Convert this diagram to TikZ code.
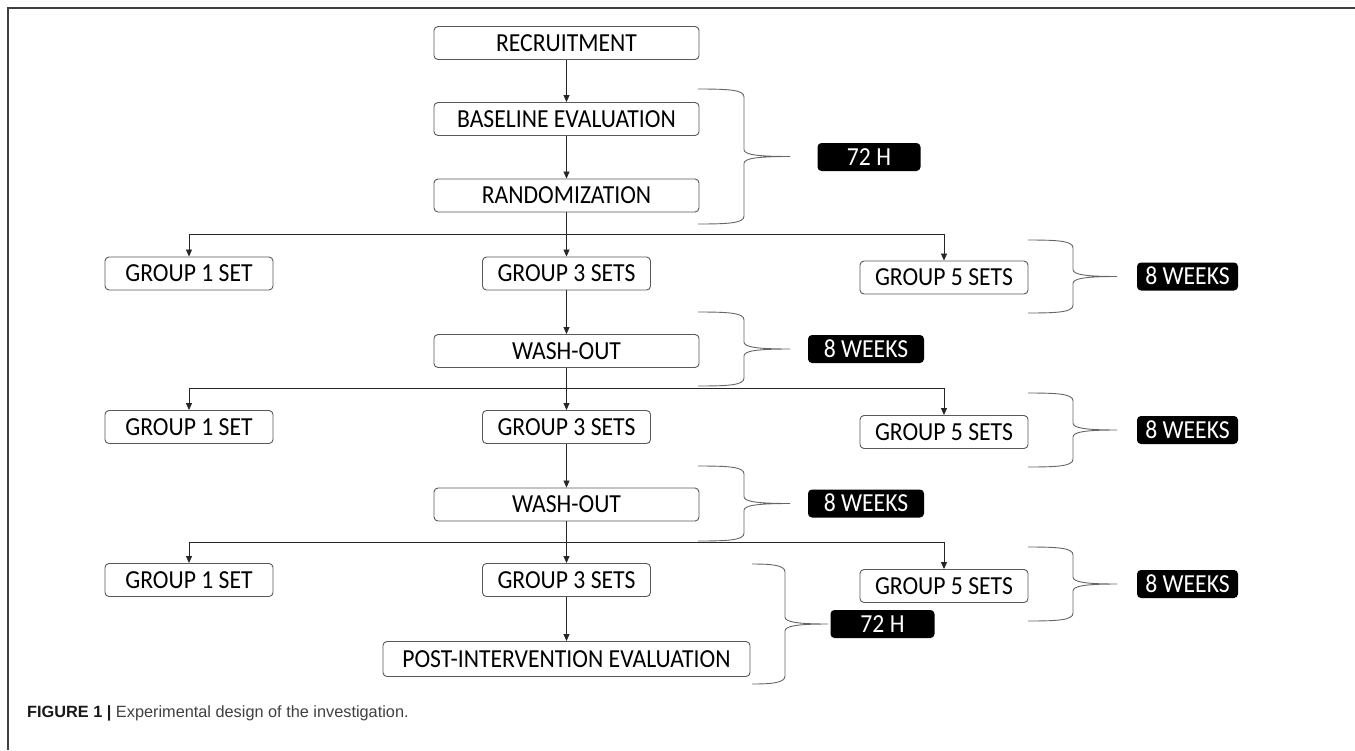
\documentclass[tikz,border=0pt]{standalone}
\usepackage{fontspec}
\setmainfont[FakeStretch=0.91]{Carlito}
\newfontfamily\capfont{Liberation Sans}
\usetikzlibrary{arrows.meta}
\newcommand\bracedraw[5]{% xl, xv, xt, ytop, ybot
  \draw[brc] (#1,#4) .. controls ({#2-14},#4) and (#2,{#4+1}) .. (#2,{#4+8})
    -- (#2,{(#4+#5)/2-7}) .. controls (#2,{(#4+#5)/2-2}) and ({#2+12},{(#4+#5)/2}) .. (#3,{(#4+#5)/2})
    .. controls ({#2+12},{(#4+#5)/2}) and (#2,{(#4+#5)/2+2}) .. (#2,{(#4+#5)/2+7})
    -- (#2,{#5-8}) .. controls (#2,{#5-1}) and ({#2-14},#5) .. (#1,#5);}
\begin{document}
\begin{tikzpicture}[x=1pt,y=-1pt,
  box/.style={draw=black!65, line width=0.9pt, rounded corners=4pt, minimum height=33pt,
    inner sep=0pt, font=\fontsize{26}{30}\selectfont, text height=16.8pt, text depth=0pt},
  mainbox/.style={box, minimum width=265pt},
  grp/.style={box, minimum width=168pt},
  tag/.style={fill=black, rounded corners=4pt, text=white, font=\fontsize{26}{30}\selectfont,
    minimum height=28pt, text height=16.8pt, text depth=0pt, inner sep=0pt},
  arr/.style={-{Triangle[length=7pt,width=6pt]}, line width=0.8pt, draw=black!85},
  brc/.style={draw=black!60, line width=0.9pt},
  frame/.style={draw=black!75, line width=1.6pt}]
\useasboundingbox (0,0) rectangle (1355,750);
% frame
\draw[frame] (8,750) -- (8,8) -- (1355,8);
% main column
\node[mainbox] (rec) at (566.5,43) {RECRUITMENT};
\node[mainbox] (base) at (566.5,119) {BASELINE EVALUATION};
\node[mainbox] (rand) at (566.5,195.5) {RANDOMIZATION};
\node[grp] (g1a) at (189,273.5) {GROUP 1 SET};
\node[grp] (g3a) at (566.5,273.5) {GROUP 3 SETS};
\node[grp] (g5a) at (944,277.5) {GROUP 5 SETS};
\node[mainbox] (wash1) at (566.5,351) {WASH-OUT};
\node[grp] (g1b) at (189,427) {GROUP 1 SET};
\node[grp] (g3b) at (566.5,427) {GROUP 3 SETS};
\node[grp] (g5b) at (944,432) {GROUP 5 SETS};
\node[mainbox] (wash2) at (566.5,504.5) {WASH-OUT};
\node[grp] (g1c) at (189,580) {GROUP 1 SET};
\node[grp] (g3c) at (566.5,580) {GROUP 3 SETS};
\node[grp] (g5c) at (944,586) {GROUP 5 SETS};
\node[box, minimum width=367pt, minimum height=35pt] (post) at (566.5,659) {POST-INTERVENTION EVALUATION};
% arrows
\draw[arr] (rec) -- (base);
\draw[arr] (base) -- (rand);
\draw[arr] (rand) -- (g3a);
\coordinate (j1) at (566.5,234);
\draw[arr] (j1) -| (g1a.north);
\draw[arr] (j1) -| (g5a.north);
\draw[arr] (g3a) -- (wash1);
\draw[arr] (wash1) -- (g3b);
\coordinate (j2) at (566.5,388);
\draw[arr] (j2) -| (g1b.north);
\draw[arr] (j2) -| (g5b.north);
\draw[arr] (g3b) -- (wash2);
\draw[arr] (wash2) -- (g3c);
\coordinate (j3) at (566.5,542);
\draw[arr] (j3) -| (g1c.north);
\draw[arr] (j3) -| (g5c.north);
\draw[arr] (g3c) -- (post);
% braces
\bracedraw{698}{744}{790}{89}{224}
\bracedraw{1028}{1073}{1117}{240}{313}
\bracedraw{698}{744}{790}{312}{386}
\bracedraw{1028}{1073}{1117}{393}{467}
\bracedraw{698}{744}{790}{466}{541}
\bracedraw{1028}{1073}{1117}{547}{621}
\bracedraw{752}{785}{828}{564}{684}
% tags
\node[tag, minimum width=103pt] (t1) at (869,157) {72 H};
\node[tag, minimum width=101pt] (t2) at (1187.5,276.5) {8 WEEKS};
\node[tag, minimum width=116pt] (t3) at (866,349) {8 WEEKS};
\node[tag, minimum width=101pt] (t4) at (1187.5,430) {8 WEEKS};
\node[tag, minimum width=116pt] (t5) at (866,503.5) {8 WEEKS};
\node[tag, minimum width=101pt] (t6) at (1187.5,584) {8 WEEKS};
\node[tag, minimum width=104pt] (t7) at (882.5,624) {72 H};
% caption
\node[anchor=base west, inner sep=0pt, font=\capfont\fontsize{16.3}{19}\selectfont] (cap) at (27,717)
  {\textcolor{black!90}{\textbf{FIGURE 1 |}} \textcolor{black!75}{Experimental design of the investigation.}};
\end{tikzpicture}
\end{document}
